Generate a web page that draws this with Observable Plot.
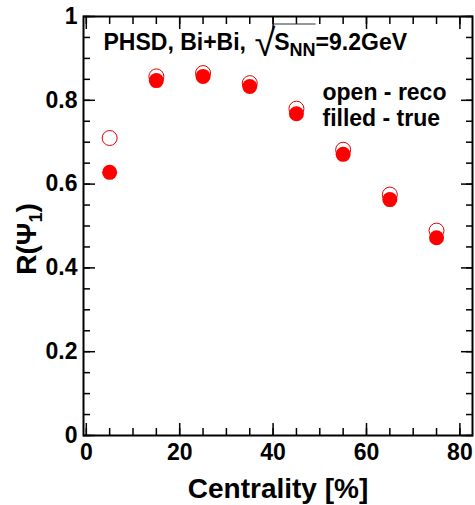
<!DOCTYPE html>
<html><head><meta charset="utf-8">
<script src="https://cdn.jsdelivr.net/npm/d3@7"></script>
<script src="https://cdn.jsdelivr.net/npm/@observablehq/plot@0.6"></script>
<style>body{margin:0;background:#fff;} svg{display:block;}</style>
</head><body><div id="chart"></div>
<script>
// ---- data ----
const centrality = [5, 15, 25, 35, 45, 55, 65, 75];
const recoR = [0.710, 0.857, 0.865, 0.841, 0.780, 0.682, 0.575, 0.489];   // open markers
const trueR = [0.628, 0.847, 0.857, 0.833, 0.768, 0.671, 0.563, 0.472];   // filled markers
const xMajorTicks = [0, 20, 40, 60, 80];
const xMinorTicks = [0, 5, 10, 15, 20, 25, 30, 35, 40, 45, 50, 55, 60, 65, 70, 75, 80];
const yMajorTicks = [0, 0.2, 0.4, 0.6, 0.8, 1];
const yTickLabels = ["0", "0.2", "0.4", "0.6", "0.8", "1"];
const yMinorTicks = [0, 0.05, 0.1, 0.15, 0.2, 0.25, 0.3, 0.35, 0.4, 0.45, 0.5, 0.55, 0.6, 0.65, 0.7, 0.75, 0.8, 0.85, 0.9, 0.95, 1];
const xTitle = "Centrality [%]";
const yTitle = ["R(Ψ", "1", ")"];
const titleParts = ["PHSD, Bi+Bi, ", "√", "S", "NN", "=9.2GeV"];
const legendLines = ["open - reco", "filled - true"];

const reco = centrality.map((c, i) => ({c, r: recoR[i]}));
const truth = centrality.map((c, i) => ({c, r: trueR[i]}));

const FONT = "'Liberation Sans', Arial, Helvetica, sans-serif";

const svg = Plot.plot({
  width: 475,
  height: 505,
  marginLeft: 83,
  marginRight: 3,
  marginTop: 16,
  marginBottom: 70,
  style: {fontFamily: FONT, fontWeight: "bold", background: "#fff", color: "#000"},
  x: {domain: [-0.6, 82.7]},
  y: {domain: [0, 1]},
  marks: [
    // minor ticks
    Plot.axisX(xMinorTicks, {anchor: "bottom", tickSize: -7, fill: "none", strokeWidth: 1.5, label: null}),
    Plot.axisX(xMinorTicks, {anchor: "top", tickSize: -7, fill: "none", strokeWidth: 1.5, label: null}),
    Plot.axisY(yMinorTicks, {anchor: "left", tickSize: -7, fill: "none", strokeWidth: 1.5, label: null}),
    Plot.axisY(yMinorTicks, {anchor: "right", tickSize: -7, fill: "none", strokeWidth: 1.5, label: null}),
    // major ticks
    Plot.axisX(xMajorTicks, {anchor: "bottom", tickSize: -12, tickPadding: 20, strokeWidth: 1.5, fontSize: 23, label: null}),
    Plot.axisX(xMajorTicks, {anchor: "top", tickSize: -12, fill: "none", strokeWidth: 1.5, label: null}),
    Plot.axisY(yMajorTicks, {anchor: "left", tickSize: -12, tickPadding: 18, strokeWidth: 1.5, fontSize: 23, label: null,
      tickFormat: d => yTickLabels[yMajorTicks.indexOf(d)]}),
    Plot.axisY(yMajorTicks, {anchor: "right", tickSize: -12, fill: "none", strokeWidth: 1.5, label: null}),
    Plot.frame({stroke: "#000", strokeWidth: 2}),
    // data
    Plot.dot(reco, {x: "c", y: "r", r: 7.5, stroke: "#e00000", strokeWidth: 1, fill: "none"}),
    Plot.dot(truth, {x: "c", y: "r", r: 7.5, fill: "#ff0000", stroke: "none"}),
    // texts
    Plot.text([titleParts.join("")], {frameAnchor: "top-left", textAnchor: "start", lineAnchor: "bottom",
      dx: 20, dy: 33, fontSize: 23, className: "ttl"}),
    Plot.text([legendLines[0]], {frameAnchor: "top-left", textAnchor: "start", lineAnchor: "bottom",
      dx: 239, dy: 83, fontSize: 23}),
    Plot.text([legendLines[1]], {frameAnchor: "top-left", textAnchor: "start", lineAnchor: "bottom",
      dx: 239, dy: 109, fontSize: 23}),
    Plot.text([xTitle], {frameAnchor: "bottom", textAnchor: "middle", lineAnchor: "bottom",
      dy: 62, fontSize: 28}),
    Plot.text([yTitle.join("")], {frameAnchor: "left", textAnchor: "middle", lineAnchor: "bottom",
      rotate: -90, dx: -48, dy: 13, fontSize: 28, className: "ylab"})
  ]
});

document.getElementById("chart").appendChild(svg);

// rich text: sqrt with overline and subscripts
const t = d3.select(svg).select("g.ttl text");
t.text(null);
t.append("tspan").text(titleParts[0]);
t.append("tspan").attr("dx", 2).attr("dy", 6).attr("font-size", 38).attr("font-weight", "normal").text(titleParts[1]);
t.append("tspan").attr("dx", -1).attr("dy", -6).text(titleParts[2]);
t.append("tspan").attr("font-size", 18).attr("dy", 6).text(titleParts[3]);
t.append("tspan").attr("dy", -6).text(titleParts[4]);

// overline of the square root, measured from the rendered glyphs
const tn = t.node();
const iS = titleParts[0].length + 1;
const pS = tn.getStartPositionOfChar(iS);
const extRoot = tn.getExtentOfChar(iS - 1);
const pEnd = tn.getEndPositionOfChar(iS + titleParts[3].length);
d3.select(tn.parentNode).append("line")
  .attr("transform", tn.getAttribute("transform"))
  .attr("x1", extRoot.x + extRoot.width - 2).attr("x2", pEnd.x)
  .attr("y1", pS.y - 25.5).attr("y2", pS.y - 25.5)
  .attr("stroke", "#333").attr("stroke-width", 1.2);

const yl = d3.select(svg).select("g.ylab text");
yl.text(null);
yl.append("tspan").text(yTitle[0]);
yl.append("tspan").attr("font-size", 18).attr("dy", 6).text(yTitle[1]);
yl.append("tspan").attr("dy", -6).text(yTitle[2]);
</script>
</body></html>
